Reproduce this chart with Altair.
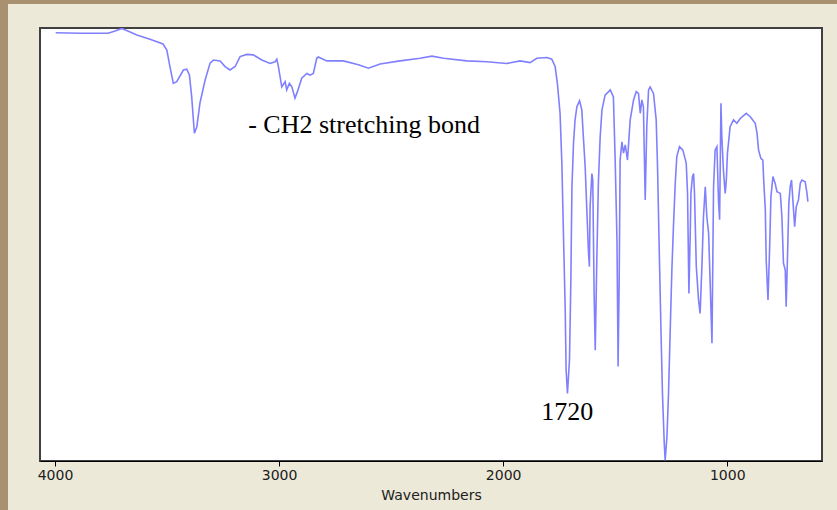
import altair as alt
import pandas as pd

wavenumber = [3997, 3888, 3763, 3732, 3702, 3683, 3665, 3635, 3576, 3518, 3501, 3487, 3472, 3457, 3427, 3412,
              3400, 3390, 3378, 3367, 3353, 3330, 3308, 3293, 3263, 3241, 3219, 3196, 3174, 3144, 3115, 3077,
              3040, 3018, 3010, 3003, 2988, 2973, 2966, 2954, 2943, 2929, 2918, 2899, 2876, 2862, 2847, 2832,
              2825, 2787, 2713, 2646, 2601, 2549, 2460, 2371, 2318, 2266, 2162, 2073, 1984, 1924, 1880, 1850,
              1805, 1783, 1768, 1758, 1746, 1738, 1731, 1723, 1719, 1713, 1704, 1698, 1693, 1686, 1679, 1671,
              1659, 1649, 1642, 1634, 1626, 1619, 1615, 1612, 1604, 1600, 1594, 1589, 1582, 1575, 1567, 1559,
              1545, 1522, 1508, 1500, 1492, 1487, 1482, 1478, 1470, 1463, 1455, 1445, 1441, 1433, 1418, 1406,
              1396, 1388, 1381, 1374, 1366, 1359, 1351, 1344, 1329, 1317, 1311, 1304, 1296, 1289, 1281, 1277,
              1269, 1262, 1254, 1247, 1240, 1232, 1225, 1213, 1198, 1183, 1177, 1171, 1165, 1162, 1155, 1150,
              1146, 1138, 1128, 1121, 1113, 1106, 1098, 1091, 1083, 1076, 1068, 1061, 1054, 1046, 1039, 1034,
              1028, 1024, 1017, 1009, 1004, 999, 987, 972, 957, 942, 915, 897, 875, 867, 860, 850,
              841, 838, 830, 826, 818, 811, 805, 796, 786, 778, 763, 756, 749, 741, 737, 731,
              725, 719, 713, 707, 699, 692, 682, 674, 667, 652, 644, 640]

transmittance = [98.9, 98.8, 98.8, 99.3, 99.9, 99.5, 99.1, 98.4, 97.4, 96.3, 94.9, 91.1, 87.2, 87.6, 90.3, 90.5,
                 89.1, 84.1, 75.7, 77.2, 82.7, 88.0, 91.9, 92.6, 92.4, 91.1, 90.3, 91.1, 93.4, 93.9, 93.8, 92.6,
                 91.8, 92.2, 92.8, 91.1, 86.4, 87.6, 85.7, 87.2, 86.4, 83.8, 85.3, 88.4, 89.5, 89.1, 89.5, 93.0,
                 93.3, 92.4, 92.4, 91.5, 90.7, 91.7, 92.4, 93.0, 93.5, 93.0, 92.4, 92.2, 91.8, 92.4, 92.0, 93.0,
                 93.2, 92.8, 91.1, 87.2, 80.3, 68.8, 52.7, 34.9, 21.0, 15.6, 23.3, 41.1, 63.3, 73.4, 78.8, 81.8,
                 83.2, 81.1, 74.9, 68.0, 57.3, 48.0, 44.9, 58.7, 66.4, 64.9, 38.7, 25.6, 46.4, 64.2, 74.9, 81.1,
                 84.5, 85.7, 84.1, 69.5, 51.0, 21.8, 42.6, 69.5, 73.7, 71.1, 73.0, 69.5, 72.6, 78.8, 83.4, 85.3,
                 84.9, 80.3, 83.4, 81.8, 60.3, 77.2, 85.7, 86.4, 84.9, 78.8, 68.0, 50.3, 31.0, 15.6, 4.1, 0.2,
                 5.6, 15.6, 31.0, 44.1, 54.1, 64.1, 70.3, 72.6, 71.8, 68.8, 61.8, 38.7, 52.6, 61.8, 65.7, 66.4,
                 61.8, 44.9, 37.2, 34.1, 44.9, 56.4, 63.3, 56.4, 52.6, 41.0, 27.2, 63.3, 71.8, 72.6, 60.3, 55.7,
                 82.6, 74.9, 67.2, 61.8, 64.9, 71.1, 77.2, 78.8, 78.0, 79.1, 80.3, 79.5, 78.0, 75.7, 71.8, 69.9,
                 69.5, 65.7, 58.0, 46.4, 37.2, 48.7, 61.0, 65.7, 64.1, 62.2, 61.8, 56.4, 45.7, 44.1, 35.6, 47.2,
                 59.5, 63.3, 64.9, 60.3, 54.1, 58.7, 60.3, 64.1, 64.9, 64.5, 61.8, 59.9]

tick_values = [4000, 3000, 2000, 1000]

note_text = ["- CH2 stretching bond", "1720"]
note_wn = [3138, 1714]
note_t = [77.6, 11.3]
note_align = ["left", "center"]

spec = pd.DataFrame({"wn": wavenumber, "t": transmittance})
notes = pd.DataFrame({"label": note_text, "wn": note_wn, "t": note_t, "align": note_align})

xscale = alt.Scale(domain=[577, 4067], reverse=True, nice=False, zero=False)
yscale = alt.Scale(domain=[0, 100], nice=False, zero=False)

line = alt.Chart(spec).mark_line(color="#8080FF", strokeWidth=1.6, clip=True).encode(
    x=alt.X("wn:Q", scale=xscale,
            axis=alt.Axis(values=tick_values, format="d", title="Wavenumbers", grid=False,
                          labelFont="DejaVu Sans", labelFontSize=14, labelColor="#202020",
                          labelPadding=2, tickSize=5, tickColor="#000000", domainColor="#000000",
                          titleFont="DejaVu Sans", titleFontSize=14, titleFontWeight="normal",
                          titleColor="#202020", titlePadding=6)),
    y=alt.Y("t:Q", scale=yscale, axis=None),
    order=alt.Order("wn:Q", sort="descending"),
)

text1 = alt.Chart(notes).transform_filter(alt.datum.align == "left").mark_text(
    font="Liberation Serif", fontSize=26, color="#000000", align="left", baseline="middle"
).encode(x=alt.X("wn:Q", scale=xscale), y=alt.Y("t:Q", scale=yscale), text="label:N")

text2 = alt.Chart(notes).transform_filter(alt.datum.align == "center").mark_text(
    font="Liberation Serif", fontSize=26, color="#000000", align="center", baseline="middle"
).encode(x=alt.X("wn:Q", scale=xscale), y=alt.Y("t:Q", scale=yscale), text="label:N")

deco = pd.DataFrame({"k": [0]})
left_strip = alt.Chart(deco).mark_rect(color="#A89070").encode(
    x=alt.value(-40), x2=alt.value(-32), y=alt.value(-28), y2=alt.value(482))
top_strip = alt.Chart(deco).mark_rect(color="#A89070").encode(
    x=alt.value(-40), x2=alt.value(797), y=alt.value(-28), y2=alt.value(-24))

chart = alt.layer(left_strip, top_strip, line, text1, text2).properties(
    width=782, height=433,
    autosize=alt.AutoSizeParams(type="none"),
    padding={"left": 40, "top": 28, "right": 15, "bottom": 49},
    background="#ECE9D8",
).configure_view(fill="white", stroke="#404040", strokeWidth=2)

chart.save("out.html", embed_options={"renderer": "svg", "actions": False})
